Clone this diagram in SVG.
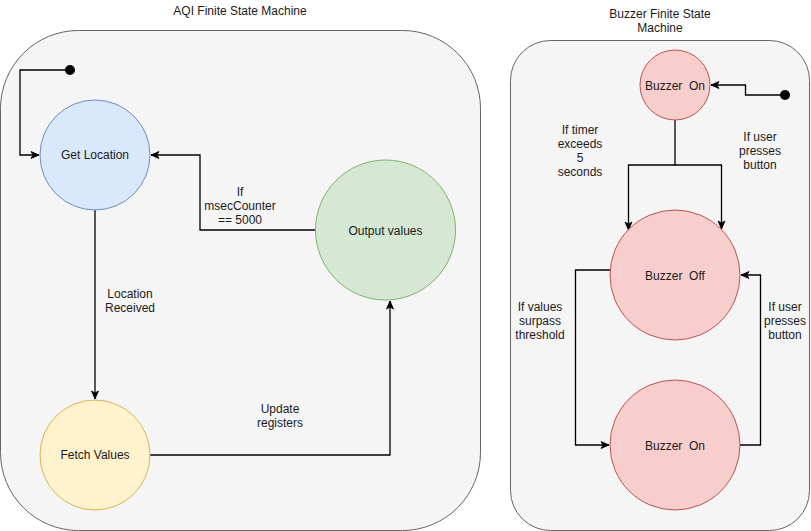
<svg xmlns="http://www.w3.org/2000/svg" width="811" height="531" viewBox="0 0 811 531">
<style>
.t{font-family:"Liberation Sans",Arial,sans-serif;font-size:12px;fill:#1a1a1a;text-anchor:middle}
.c{fill:#f5f5f5;stroke:#666666;stroke-width:1}
.e{fill:none;stroke:#000;stroke-width:1.3}
.blue{fill:#dae8fc;stroke:#6c8ebf}
.yel{fill:#fff2cc;stroke:#d6b656}
.grn{fill:#d5e8d4;stroke:#82b366}
.red{fill:#f8cecc;stroke:#b85450}
</style>
<defs>
<marker id="arr" markerUnits="userSpaceOnUse" markerWidth="10" markerHeight="10" viewBox="0 0 10 10" refX="9" refY="5" orient="auto">
<path d="M1,1.5 L9,5 L1,8.5 L3,5 Z" fill="#000" stroke="#000" stroke-width="0.8"/>
</marker>
</defs>
<rect fill="#ffffff" width="811" height="531"/>
<g id="aqi-container">
<rect class="c" x="0.5" y="30.5" width="480" height="500" rx="78" ry="78"/>
<text class="t" x="240" y="15">AQI Finite State Machine</text>
</g>
<g id="buzzer-container">
<rect class="c" x="510.5" y="40.5" width="299" height="490" rx="40" ry="40"/>
<text class="t" x="660" y="18">Buzzer Finite State</text>
<text class="t" x="660" y="32">Machine</text>
</g>
<g id="edges">
<circle cx="70" cy="70" r="5" fill="#000"/>
<path class="e" d="M70,70 H20 V155 H39" marker-end="url(#arr)"/>
<path class="e" d="M95,210 V399" marker-end="url(#arr)"/>
<path class="e" d="M150,455 H390 V301" marker-end="url(#arr)"/>
<path class="e" d="M315,230 H200 V155 H151" marker-end="url(#arr)"/>
<circle cx="785" cy="95" r="5" fill="#000"/>
<path class="e" d="M785,95 H745.5 V85 H711" marker-end="url(#arr)"/>
<path class="e" d="M675,120 V165 H628.5 V230" marker-end="url(#arr)"/>
<path class="e" d="M675,165 H721.5 V229" marker-end="url(#arr)"/>
<path class="e" d="M610.5,270 H575.5 V445 H609" marker-end="url(#arr)"/>
<path class="e" d="M740,445 H760.5 V275 H741" marker-end="url(#arr)"/>
<text class="t" x="130" y="298">Location</text>
<text class="t" x="130" y="312">Received</text>
<text class="t" x="280" y="413">Update</text>
<text class="t" x="280" y="427">registers</text>
<text class="t" x="240" y="196">If</text>
<text class="t" x="240" y="210">msecCounter</text>
<text class="t" x="240" y="224">== 5000</text>
<text class="t" x="580" y="134">If timer</text>
<text class="t" x="580" y="148">exceeds</text>
<text class="t" x="580" y="162">5</text>
<text class="t" x="580" y="176">seconds</text>
<text class="t" x="760" y="141">If user</text>
<text class="t" x="760" y="155">presses</text>
<text class="t" x="760" y="169">button</text>
<text class="t" x="540" y="311">If values</text>
<text class="t" x="540" y="325">surpass</text>
<text class="t" x="540" y="339">threshold</text>
<text class="t" x="785" y="311">If user</text>
<text class="t" x="785" y="325">presses</text>
<text class="t" x="785" y="339">button</text>
</g>
<g id="get-location">
<circle class="blue" cx="95" cy="155" r="55"/>
<text class="t" x="95" y="159">Get Location</text>
</g>
<g id="fetch-values">
<circle class="yel" cx="95" cy="455" r="55"/>
<text class="t" x="95" y="459">Fetch Values</text>
</g>
<g id="output-values">
<circle class="grn" cx="385.5" cy="230" r="70"/>
<text class="t" x="385.5" y="235">Output values</text>
</g>
<g id="buzzer-on-top">
<circle class="red" cx="675" cy="85" r="35"/>
<text class="t" x="675" y="90" xml:space="preserve">Buzzer  On</text>
</g>
<g id="buzzer-off">
<circle class="red" cx="675" cy="275" r="65"/>
<text class="t" x="675" y="280" xml:space="preserve">Buzzer  Off</text>
</g>
<g id="buzzer-on-bottom">
<circle class="red" cx="675" cy="445" r="65"/>
<text class="t" x="675" y="450" xml:space="preserve">Buzzer  On</text>
</g>
</svg>
